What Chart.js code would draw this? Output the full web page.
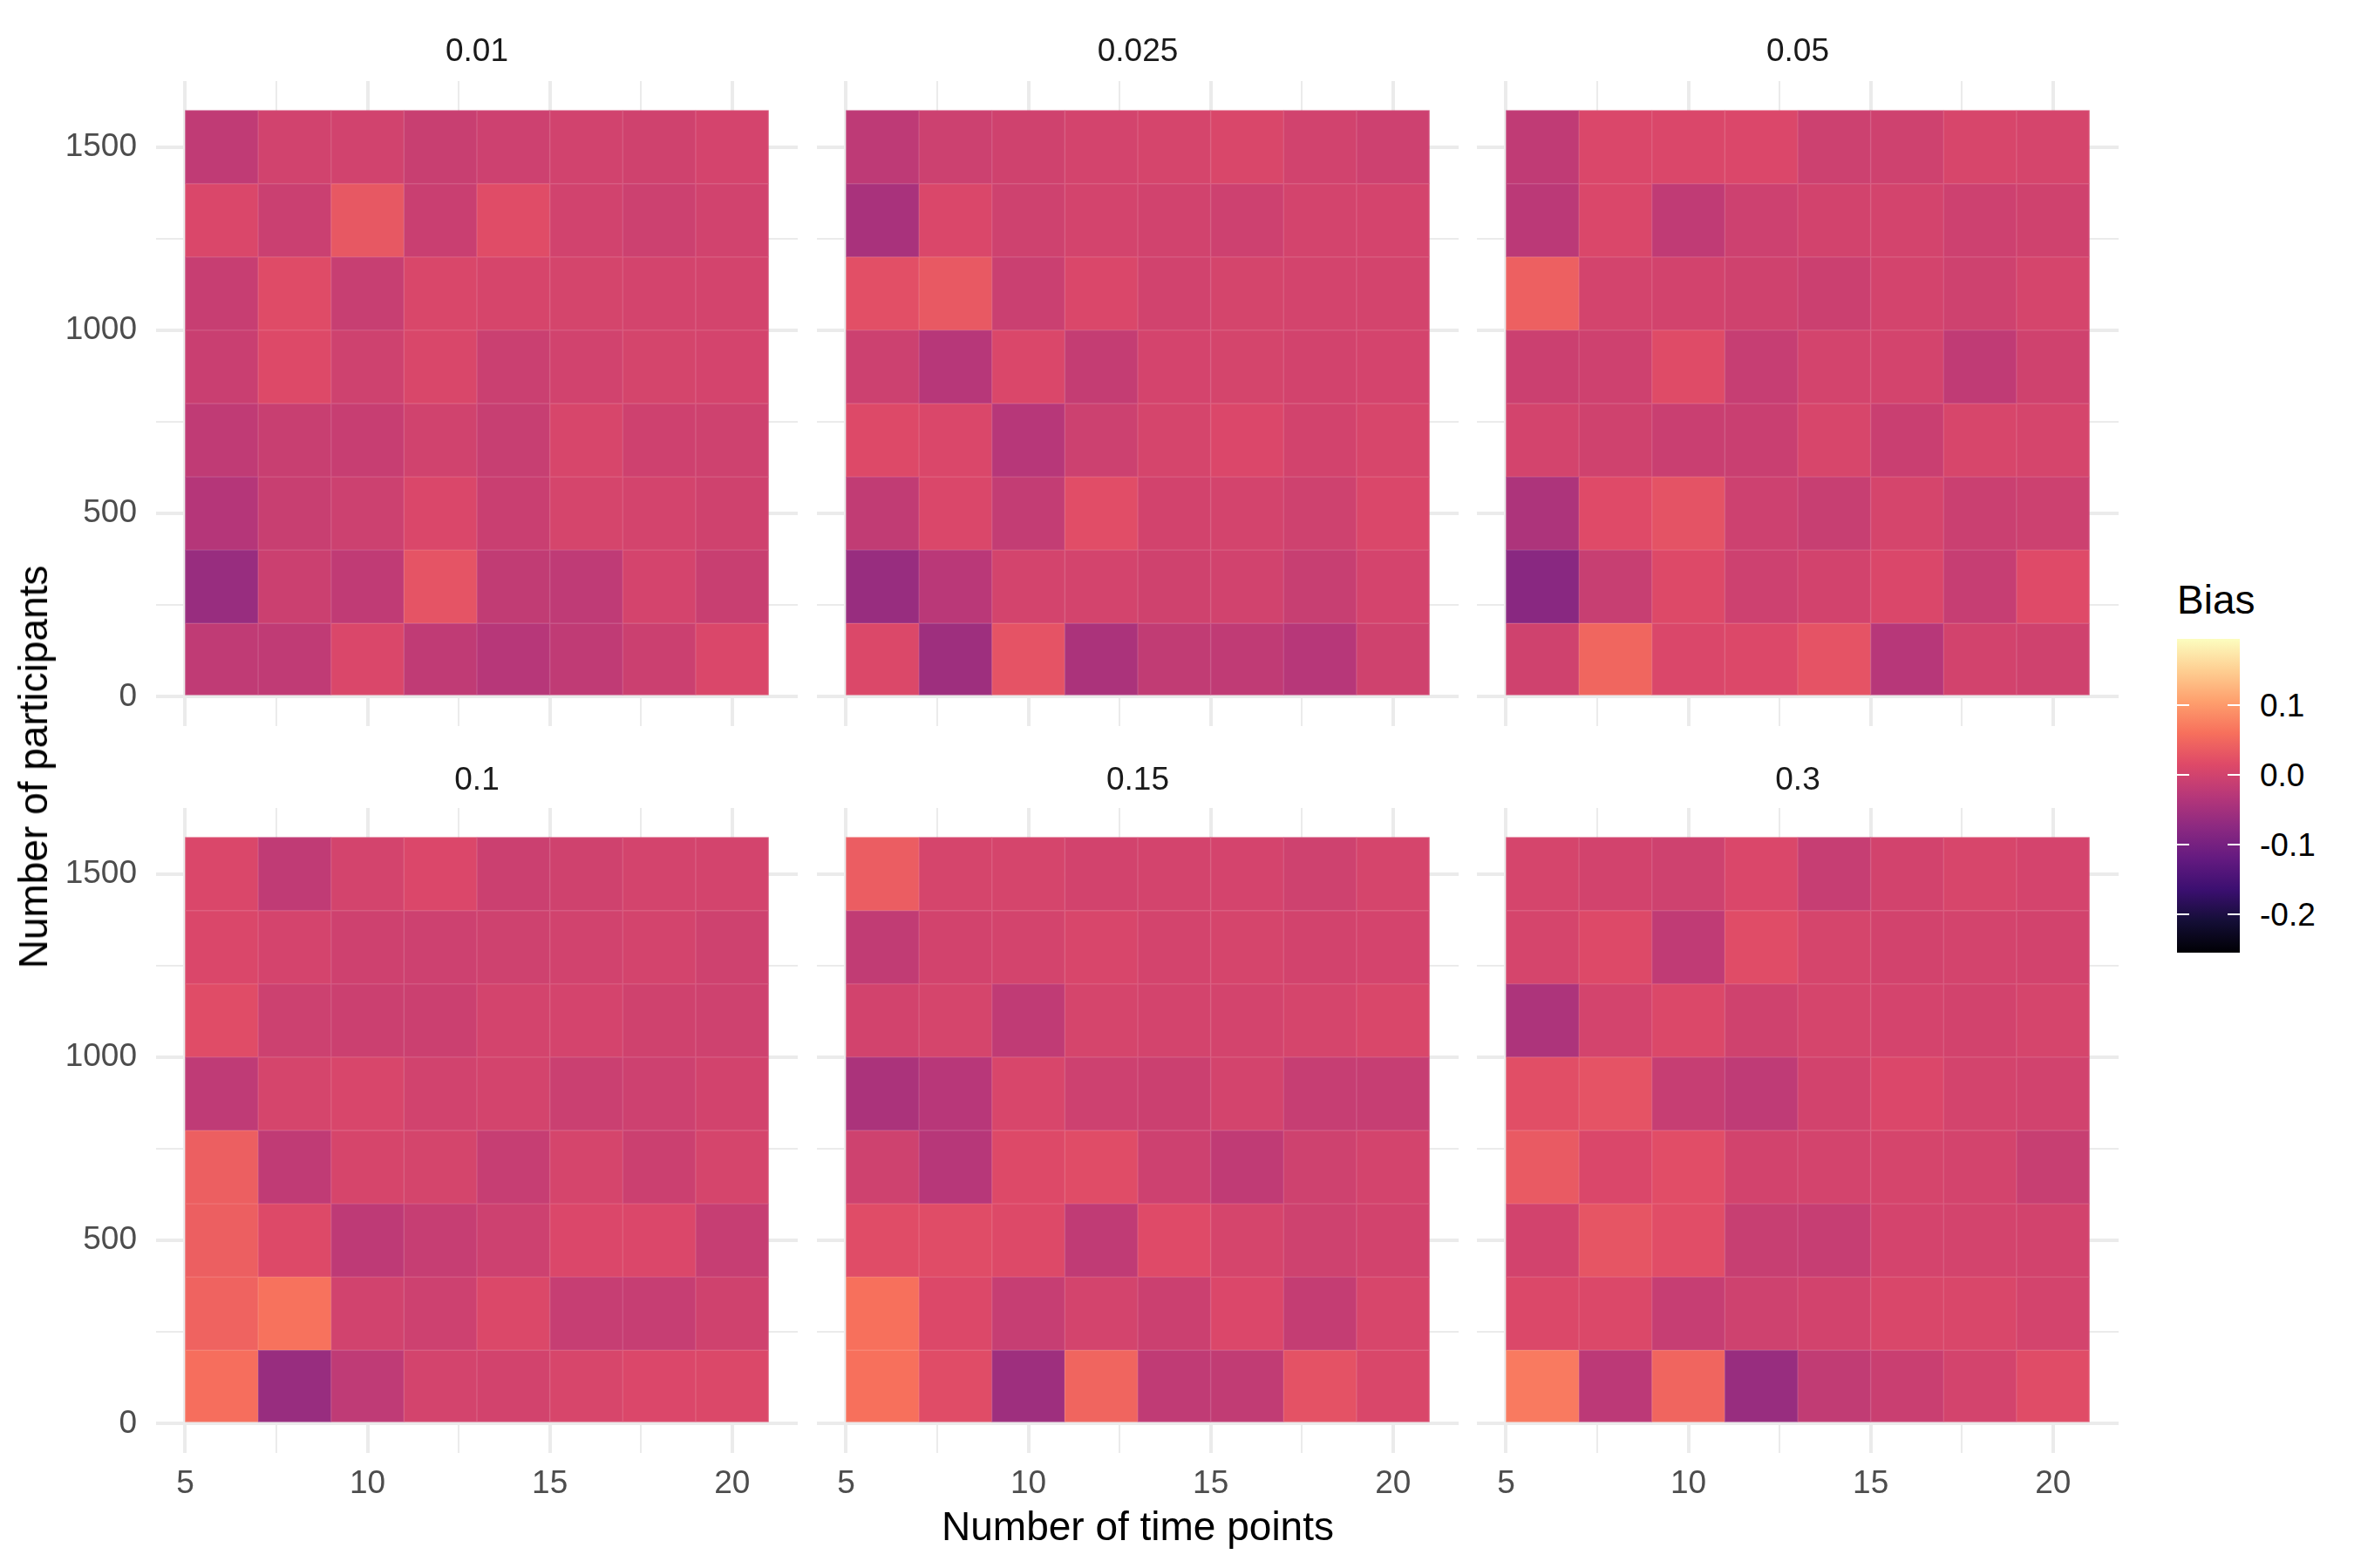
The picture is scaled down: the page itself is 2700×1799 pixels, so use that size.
<!DOCTYPE html>
<html>
<head>
<meta charset="utf-8">
<title>Bias by number of time points and participants</title>
<script src="https://cdn.jsdelivr.net/npm/chart.js@4.4.1/dist/chart.umd.min.js"></script>
<style>
  body { margin: 0; background: #fff; font-family: "Liberation Sans", Arial, sans-serif; }
  #wrap { position: relative; width: 2700px; height: 1799px; overflow: hidden; }
  #wrap canvas { position: absolute; }
  .lbl { position: absolute; white-space: nowrap; line-height: 1; color: #000; }
</style>
</head>
<body>
<div id="wrap"></div>
<script>
// grid: columns = time points, rows = participants (listed top row first)
const timePoints = [6, 8, 10, 12, 14, 16, 18, 20];
const participants = [1500, 1300, 1100, 900, 700, 500, 300, 100];
const panelLabels = ["0.01", "0.025", "0.05", "0.1", "0.15", "0.3"];

const bias01 = [
    [-0.020, 0.000, 0.000, -0.010, -0.005, 0.000, -0.002, 0.003],
    [0.010, -0.008, 0.032, -0.009, 0.018, 0.000, -0.006, 0.000],
    [-0.012, 0.017, -0.011, 0.009, 0.006, 0.004, 0.002, 0.002],
    [-0.009, 0.014, -0.003, 0.009, -0.008, 0.000, 0.004, 0.003],
    [-0.020, -0.010, -0.012, -0.001, -0.011, 0.007, -0.004, -0.003],
    [-0.032, -0.010, -0.006, 0.010, -0.009, 0.005, 0.002, -0.002],
    [-0.062, -0.007, -0.020, 0.028, -0.018, -0.021, 0.003, -0.010],
    [-0.020, -0.020, 0.010, -0.020, -0.030, -0.020, -0.007, 0.010]
];
const bias025 = [
    [-0.022, -0.006, -0.002, 0.002, 0.005, 0.009, 0.000, -0.005],
    [-0.045, 0.010, -0.003, 0.002, 0.000, -0.005, 0.002, 0.003],
    [0.022, 0.033, -0.008, 0.010, 0.000, 0.004, 0.002, 0.002],
    [-0.006, -0.030, 0.010, -0.015, 0.003, 0.004, 0.001, 0.003],
    [0.014, 0.010, -0.030, -0.006, 0.005, 0.011, 0.001, 0.007],
    [-0.018, 0.010, -0.016, 0.020, 0.001, 0.002, -0.003, 0.010],
    [-0.062, -0.027, 0.002, 0.002, -0.002, 0.000, -0.011, 0.003],
    [0.012, -0.056, 0.027, -0.043, -0.018, -0.020, -0.030, -0.002]
];
const bias05 = [
    [-0.020, 0.010, 0.010, 0.011, -0.006, -0.003, 0.007, 0.005],
    [-0.025, 0.010, -0.020, -0.005, 0.001, 0.002, -0.005, -0.002],
    [0.042, 0.002, 0.001, -0.002, -0.007, 0.002, -0.003, 0.005],
    [-0.007, -0.004, 0.017, -0.013, 0.002, 0.002, -0.020, -0.002],
    [0.002, -0.002, -0.009, -0.009, 0.007, -0.009, 0.007, 0.005],
    [-0.040, 0.016, 0.026, -0.005, -0.011, 0.005, -0.008, -0.006],
    [-0.078, -0.011, 0.014, -0.005, 0.001, 0.010, -0.013, 0.016],
    [-0.002, 0.048, 0.010, 0.013, 0.027, -0.030, 0.001, -0.002]
];
const bias10 = [
    [0.010, -0.020, 0.002, 0.011, -0.007, -0.002, 0.002, 0.002],
    [0.010, 0.003, -0.004, -0.005, -0.003, 0.000, 0.002, -0.003],
    [0.018, -0.006, -0.007, -0.007, 0.002, 0.003, -0.002, -0.003],
    [-0.021, 0.005, 0.008, 0.000, 0.002, -0.008, -0.005, 0.001],
    [0.040, -0.020, 0.006, 0.004, -0.013, 0.005, -0.007, 0.005],
    [0.040, 0.014, -0.022, -0.013, -0.005, 0.011, 0.011, -0.013],
    [0.045, 0.062, 0.000, -0.005, 0.012, -0.013, -0.013, -0.002],
    [0.058, -0.062, -0.021, 0.002, 0.001, 0.007, 0.011, 0.012]
];
const bias15 = [
    [0.038, 0.005, 0.005, 0.001, 0.002, 0.003, -0.003, 0.005],
    [-0.018, 0.001, 0.002, 0.008, 0.002, 0.005, 0.001, 0.003],
    [0.001, 0.005, -0.020, 0.005, 0.002, 0.002, 0.005, 0.009],
    [-0.043, -0.029, 0.008, -0.005, -0.007, 0.002, -0.013, -0.013],
    [-0.003, -0.030, 0.014, 0.018, -0.005, -0.020, -0.003, 0.002],
    [0.019, 0.019, 0.014, -0.020, 0.016, 0.005, -0.003, 0.001],
    [0.060, 0.013, -0.013, 0.002, -0.007, 0.011, -0.015, 0.007],
    [0.060, 0.018, -0.056, 0.047, -0.020, -0.018, 0.025, 0.009]
];
const bias30 = [
    [0.005, 0.001, -0.003, 0.010, -0.013, 0.001, 0.007, 0.003],
    [0.005, 0.014, -0.020, 0.019, 0.005, 0.001, 0.002, 0.001],
    [-0.040, 0.002, 0.012, -0.002, 0.005, 0.003, 0.001, 0.005],
    [0.021, 0.027, -0.013, -0.021, 0.001, 0.011, 0.002, 0.000],
    [0.035, 0.010, 0.020, 0.001, 0.002, 0.005, 0.002, -0.011],
    [0.001, 0.029, 0.020, -0.011, -0.013, 0.003, 0.002, 0.001],
    [0.012, 0.012, -0.013, -0.003, 0.001, 0.009, 0.009, 0.002],
    [0.070, -0.024, 0.047, -0.062, -0.018, -0.009, 0.002, 0.018]
];
const panelData = [bias01, bias025, bias05, bias10, bias15, bias30];

const xTicks = [5, 7.5, 10, 12.5, 15, 17.5, 20];
const xMajor = [5, 10, 15, 20];
const yTicks = [0, 250, 500, 750, 1000, 1250, 1500];
const yMajor = [0, 500, 1000, 1500];
const legendTicks = [0.1, 0.0, -0.1, -0.2];
const biasLimits = [-0.255, 0.195];

// magma palette
const magmaStops = ["#000004", "#140e36", "#3b0f70", "#641a80", "#8c2981", "#b73779",
    "#de4968", "#f7705c", "#fe9f6d", "#fecf92", "#fcfdbf"];

function hexToRgb(h) {
    return [parseInt(h.slice(1, 3), 16), parseInt(h.slice(3, 5), 16), parseInt(h.slice(5, 7), 16)];
}

function magmaRgb(v) {
    let t = (v - biasLimits[0]) / (biasLimits[1] - biasLimits[0]);
    t = Math.max(0, Math.min(1, t)) * (magmaStops.length - 1);
    const i = Math.min(Math.floor(t), magmaStops.length - 2);
    const f = t - i;
    const a = hexToRgb(magmaStops[i]), b = hexToRgb(magmaStops[i + 1]);
    return a.map((x, k) => x + (b[k] - x) * f);
}

function rgb(c, lighten) {
    const m = lighten || 0;
    return "rgb(" + c.map(x => Math.round(x + (255 - x) * m)).join(",") + ")";
}

// layout of the facets (px)
const colLeft = [179, 937, 1694];
const rowTop = [93, 927];
const panelW = 736;
const panelH = 740;
const yAxisW = 179;
const xAxisH = 80;
const stripH = 55;
const stripGap = [15, 13];
const gridColor = "#EBEBEB";
const fontFamily = "'Liberation Sans', Arial, sans-serif";

const wrap = document.getElementById("wrap");
const yStep = participants[0] - participants[1];

panelData.forEach((grid, p) => {
    const r = Math.floor(p / 3);
    const c = p % 3;
    const leftW = c === 0 ? yAxisW : 0;
    const bottomH = r === 1 ? xAxisH : 0;

    const canvas = document.createElement("canvas");
    canvas.width = leftW + panelW;
    canvas.height = stripH + panelH + bottomH;
    canvas.style.left = (colLeft[c] - leftW) + "px";
    canvas.style.top = (rowTop[r] - stripH) + "px";
    wrap.appendChild(canvas);

    const tiles = [];
    participants.forEach((n, i) => {
        timePoints.forEach((tp, j) => {
            tiles.push({ x: tp, y: [n - yStep / 2, n + yStep / 2], bias: grid[i][j] });
        });
    });

    new Chart(canvas.getContext("2d"), {
        type: "bar",
        data: {
            datasets: [{
                data: tiles,
                backgroundColor: ctx => rgb(magmaRgb(ctx.raw.bias)),
                borderColor: ctx => rgb(magmaRgb(ctx.raw.bias), 0.14),
                borderWidth: 1,
                borderSkipped: false,
                barPercentage: 1,
                categoryPercentage: 1
            }]
        },
        options: {
            responsive: false,
            animation: false,
            devicePixelRatio: 1,
            layout: { padding: 0 },
            plugins: {
                legend: { display: false },
                tooltip: { enabled: false },
                title: {
                    display: true,
                    text: panelLabels[p],
                    fullSize: false,
                    color: "#1A1A1A",
                    font: { family: fontFamily, size: 37, weight: "normal", lineHeight: 1 },
                    padding: { top: stripH - 37 - stripGap[r], bottom: stripGap[r] }
                }
            },
            scales: {
                x: {
                    type: "linear",
                    min: xTicks[0] - 0.05 * 16,
                    max: 21 + 0.05 * 16,
                    offset: false,
                    border: { display: false },
                    grid: {
                        offset: false,
                        color: gridColor,
                        drawTicks: false,
                        lineWidth: ctx => xMajor.includes(ctx.tick.value) ? 4 : 2
                    },
                    ticks: {
                        display: r === 1,
                        color: "#4D4D4D",
                        font: { family: fontFamily, size: 37 },
                        padding: 14,
                        maxRotation: 0,
                        autoSkip: false,
                        callback: v => xMajor.includes(v) ? String(v) : ""
                    },
                    afterBuildTicks: s => { s.ticks = xTicks.map(v => ({ value: v })); },
                    afterFit: s => { s.height = bottomH; s.paddingLeft = 0; s.paddingRight = 0; }
                },
                y: {
                    type: "linear",
                    min: -0.05 * 1600,
                    max: 1600 + 0.05 * 1600,
                    border: { display: false },
                    grid: {
                        color: gridColor,
                        drawTicks: false,
                        lineWidth: ctx => yMajor.includes(ctx.tick.value) ? 4 : 2
                    },
                    ticks: {
                        display: c === 0,
                        color: "#4D4D4D",
                        font: { family: fontFamily, size: 37 },
                        padding: 22,
                        autoSkip: false,
                        callback: v => yMajor.includes(v) ? String(v) : ""
                    },
                    afterBuildTicks: s => { s.ticks = yTicks.map(v => ({ value: v })); },
                    afterFit: s => { s.width = leftW; s.paddingTop = 0; s.paddingBottom = 0; }
                }
            }
        }
    });
});

// axis titles
function addLabel(text, x, y, size, extra) {
    const d = document.createElement("div");
    d.className = "lbl";
    d.textContent = text;
    d.style.left = x + "px";
    d.style.top = y + "px";
    d.style.fontSize = size + "px";
    d.style.transform = "translate(-50%, -50%)" + (extra || "");
    wrap.appendChild(d);
    return d;
}
addLabel("Number of time points", 1305, 1751, 46);
addLabel("Number of participants", 38, 880, 46, " rotate(-90deg)");

// colour bar legend
const barLeft = 2497, barTop = 733, barW = 72, barH = 360;
const title = addLabel("Bias", barLeft, 688, 46);
title.style.transform = "translateY(-50%)";

const bar = document.createElement("div");
bar.style.position = "absolute";
bar.style.left = barLeft + "px";
bar.style.top = barTop + "px";
bar.style.width = barW + "px";
bar.style.height = barH + "px";
bar.style.background = "linear-gradient(to top, " +
    magmaStops.map((s, i) => s + " " + (i * 100 / (magmaStops.length - 1)) + "%").join(", ") + ")";
wrap.appendChild(bar);

legendTicks.forEach(v => {
    const y = barTop + (biasLimits[1] - v) / (biasLimits[1] - biasLimits[0]) * barH;
    [0, barW - 14].forEach(dx => {
        const t = document.createElement("div");
        t.style.position = "absolute";
        t.style.left = (barLeft + dx) + "px";
        t.style.top = (y - 1) + "px";
        t.style.width = "14px";
        t.style.height = "2px";
        t.style.background = "#fff";
        wrap.appendChild(t);
    });
    const l = addLabel(v.toFixed(1), barLeft + barW + 23, y, 37);
    l.style.transform = "translateY(-50%)";
});
</script>
</body>
</html>
